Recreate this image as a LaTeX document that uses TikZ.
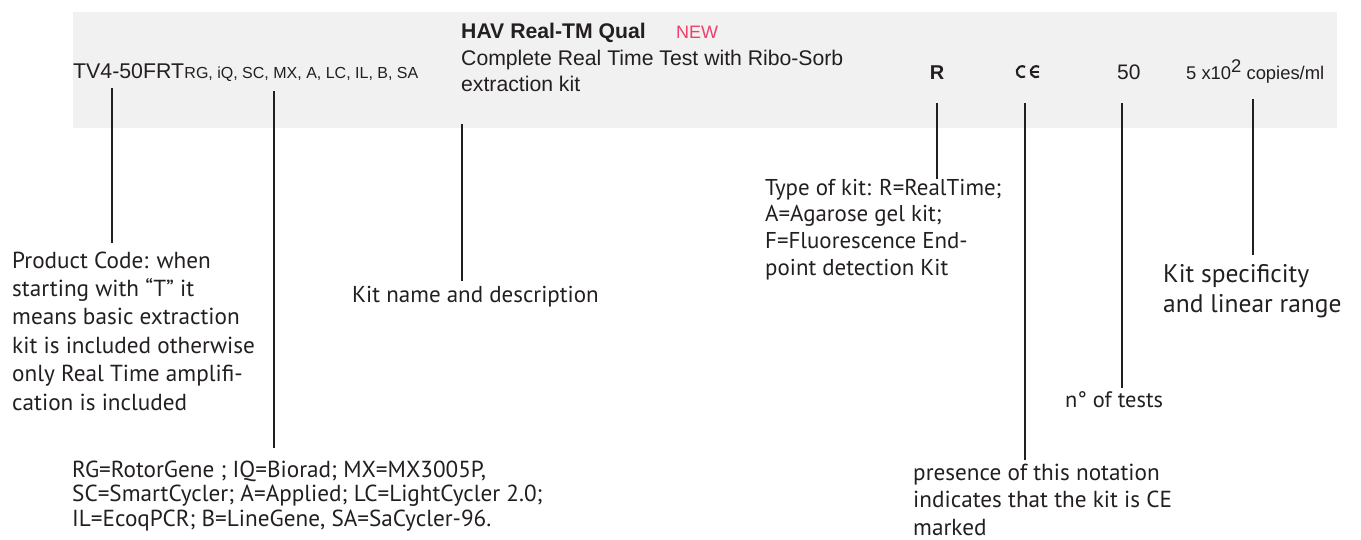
\documentclass[tikz,border=0pt]{standalone}
\usepackage{fontspec}
\setmainfont{Liberation Sans}
\newfontfamily\annfont{PT Sans}
\definecolor{ink}{HTML}{231F20}
\definecolor{band}{HTML}{F1F1F1}
\definecolor{newpink}{HTML}{F0406A}
\newcommand{\annlines}[1]{\begin{tabular}[t]{@{}l@{}}#1\end{tabular}}
\tikzset{
  bandtxt/.style={anchor=base west, inner sep=0pt, text=ink},
  ann/.style={anchor=base west, inner sep=0pt, text=ink},
  leader/.style={draw=ink, line width=2.6pt},
}
\begin{document}
\begin{tikzpicture}[x=1pt,y=-1pt]
\useasboundingbox (0,0) rectangle (1361,539);
\fill[band] (73,12) rectangle (1337,128);
% band texts
\node[bandtxt, font=\fontsize{21.3}{25}\selectfont] (code) at (73,78) {TV4-50FRT};
\node[bandtxt, font=\fontsize{16}{19}\selectfont] (inst) at (code.base east) {RG, iQ, SC, MX, A, LC, IL, B, SA};
\node[bandtxt, font=\bfseries\fontsize{21.2}{24}\selectfont] (hav) at (461,38) {HAV Real-TM Qual};
\node[bandtxt, text=newpink, font=\fontsize{18}{21}\selectfont] (new) at (676,38) {NEW};
\node[bandtxt, font=\fontsize{21.2}{26}\selectfont] (desc) at (461,65) {\annlines{Complete Real Time Test with Ribo-Sorb\\extraction kit}};
\node[anchor=base, inner sep=0pt, text=ink, font=\bfseries\fontsize{20}{22}\selectfont] (type) at (937,79) {R};
\node[inner sep=0pt, minimum width=24pt, minimum height=12pt] (ce) at (1028.5,71.7) {};
\draw[ink, line width=2.1pt] ([shift={(60:5.6)}]1022.3,71.7) arc[start angle=60, end angle=300, radius=5.6];
\draw[ink, line width=2.1pt] ([shift={(60:5.6)}]1036.3,71.7) arc[start angle=60, end angle=300, radius=5.6];
\draw[ink, line width=1.6pt] (1031,71.7) -- (1039,71.7);
\node[bandtxt, font=\fontsize{21}{25}\selectfont] (num) at (1117,79) {50};
\node[bandtxt, font=\fontsize{18.4}{21}\selectfont] (lod) at (1186,79) {5 x10\raisebox{7pt}{2} copies/ml};
% annotations
\node[ann, font=\annfont\fontsize{23.2}{28.4}\selectfont] (prod) at (12,268) {\annlines{Product Code: when\\starting with “T” it\\means basic extraction\\kit is included otherwise\\only Real Time amplifi-\\cation is included}};
\node[ann, font=\annfont\fontsize{23.2}{24.8}\selectfont] (rg) at (72,477) {\annlines{RG=RotorGene ; IQ=Biorad; MX=MX3005P,\\SC=SmartCycler; A=Applied; LC=LightCycler 2.0;\\IL=EcoqPCR; B=LineGene, SA=SaCycler-96.}};
\node[ann, font=\annfont\fontsize{23}{26}\selectfont] (kitname) at (352,302) {Kit name and description};
\node[ann, font=\annfont\fontsize{22.9}{26.7}\selectfont] (typetxt) at (765,195) {\annlines{Type of kit: R=RealTime;\\A=Agarose gel kit;\\F=Fluorescence End-\\point detection Kit}};
\node[ann, font=\annfont\fontsize{25.5}{30}\selectfont] (spec) at (1163,282) {\annlines{Kit specificity\\and linear range}};
\node[ann, font=\annfont\fontsize{22.4}{26}\selectfont] (ntests) at (1065,407) {n° of tests};
\node[ann, font=\annfont\fontsize{23.2}{27.5}\selectfont] (cetxt) at (913,480) {\annlines{presence of this notation\\indicates that the kit is CE\\marked}};
% leader lines
\coordinate (l1t) at (112,88);   \coordinate (l1b) at (112,243);
\coordinate (l2t) at (274,91);   \coordinate (l2b) at (274,448);
\coordinate (l3t) at (462,124);  \coordinate (l3b) at (462,281);
\coordinate (l4t) at (937,103);  \coordinate (l4b) at (937,179);
\coordinate (l5t) at (1025,103); \coordinate (l5b) at (1025,460);
\coordinate (l6t) at (1122,103); \coordinate (l6b) at (1122,388);
\coordinate (l7t) at (1253,99);  \coordinate (l7b) at (1253,255);
\draw[leader] (l1t) -- (l1b);
\draw[leader] (l2t) -- (l2b);
\draw[leader] (l3t) -- (l3b);
\draw[leader] (l4t) -- (l4b);
\draw[leader] (l5t) -- (l5b);
\draw[leader] (l6t) -- (l6b);
\draw[leader] (l7t) -- (l7b);
\end{tikzpicture}
\end{document}
